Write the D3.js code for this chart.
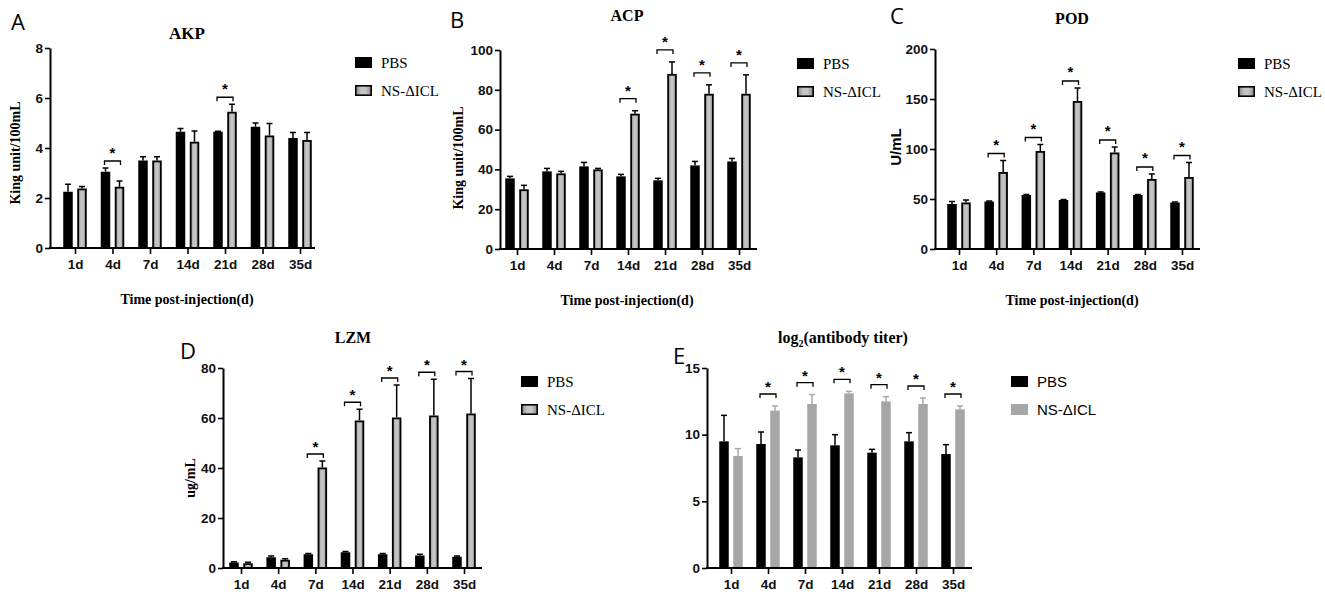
<!DOCTYPE html>
<html>
<head>
<meta charset="utf-8">
<script src="https://cdn.jsdelivr.net/npm/d3@7"></script>
<style>
  body { margin: 0; background: #fff; }
  svg { display: block; }
  .tick text { font-family: "Liberation Sans", Arial, sans-serif; font-weight: bold; font-size: 13.5px; fill: #111; }
  .ttl { font-family: "Liberation Serif", "Times New Roman", serif; font-weight: bold; }
  .lbl { font-family: "Open Sans", "Liberation Sans", sans-serif; font-size: 22px; }
</style>
</head>
<body>
<svg id="chart" width="1325" height="609"></svg>
<script>
const days = ["1d", "4d", "7d", "14d", "21d", "28d", "35d"];
const seriesNames = ["PBS", "NS-\u0394ICL"];

// AKP
const akpPBS = [2.25, 3.05, 3.5, 4.65, 4.65, 4.85, 4.4];
const akpPBSErr = [0.3, 0.15, 0.15, 0.13, 0.02, 0.15, 0.22];
const akpNS = [2.38, 2.45, 3.5, 4.25, 5.45, 4.5, 4.32];
const akpNSErr = [0.08, 0.23, 0.15, 0.43, 0.3, 0.48, 0.3];
const akpSig = ["4d", "21d"];

// ACP
const acpPBS = [35.5, 39, 41.5, 36.5, 34.5, 42, 44];
const acpPBSErr = [1, 1.5, 2, 1, 1, 2, 1.5];
const acpNS = [30, 38, 40, 68, 88, 78, 78];
const acpNSErr = [2, 1, 0.5, 1.5, 6, 4.5, 9.5];
const acpSig = ["14d", "21d", "28d", "35d"];

// POD
const podPBS = [45, 47.5, 54, 49, 56.5, 54, 46.5];
const podPBSErr = [2.5, 0.5, 0.5, 0.5, 0.5, 0.5, 0.5];
const podNS = [46.5, 77, 98, 148, 96.5, 70, 72];
const podNSErr = [2.5, 11.5, 6.5, 13, 5.5, 5, 14.5];
const podSig = ["4d", "7d", "14d", "21d", "28d", "35d"];

// LZM
const lzmPBS = [2.2, 4.3, 5.5, 6.3, 5.5, 5.0, 4.5];
const lzmPBSErr = [0.3, 0.5, 0.3, 0.3, 0.3, 0.5, 0.3];
const lzmNS = [1.9, 3.3, 40.2, 59, 60.2, 61, 61.8];
const lzmNSErr = [0.4, 0.4, 2.6, 4.5, 13, 14.5, 14];
const lzmSig = ["7d", "14d", "21d", "28d", "35d"];

// log2 antibody titer
const titerPBS = [9.5, 9.3, 8.3, 9.2, 8.65, 9.5, 8.55];
const titerPBSErr = [1.95, 0.9, 0.55, 0.8, 0.25, 0.65, 0.7];
const titerNS = [8.4, 11.8, 12.3, 13.1, 12.5, 12.3, 11.9];
const titerNSErr = [0.55, 0.35, 0.7, 0.15, 0.35, 0.45, 0.25];
const titerSig = ["4d", "7d", "14d", "21d", "28d", "35d"];

const svg = d3.select("#chart");

const grad = svg.append("defs").append("linearGradient").attr("id", "nsFill");
grad.append("stop").attr("offset", "0%").attr("stop-color", "#8a8a8a");
grad.append("stop").attr("offset", "35%").attr("stop-color", "#c4c4c4");
grad.append("stop").attr("offset", "65%").attr("stop-color", "#c4c4c4");
grad.append("stop").attr("offset", "100%").attr("stop-color", "#8a8a8a");

const panels = [
  { letter: "A", lx: 11, ly: 30, title: "AKP", tsize: 17, tx: 187, ty: 39, ylab: "King unit/100mL", ylx: 15, yly: 153, ylSans: false,
    x0: 50, xEnd: 315, first: 75, last: 300, yTop: 48, y0: 248, max: 8, step: 2,
    pbs: akpPBS, pbsErr: akpPBSErr, ns: akpNS, nsErr: akpNSErr, sig: akpSig, gap: 7, star: 11,
    legX: 355, legY: 57, xTitle: true, xtx: 187, e: false },
  { letter: "B", lx: 450, ly: 28, title: "ACP", tsize: 16, tx: 627, ty: 21, ylab: "King unit/100mL", ylx: 458, yly: 158, ylSans: false,
    x0: 500, xEnd: 757, first: 517, last: 739, yTop: 50, y0: 249, max: 100, step: 20,
    pbs: acpPBS, pbsErr: acpPBSErr, ns: acpNS, nsErr: acpNSErr, sig: acpSig, gap: 12, star: 11,
    legX: 797, legY: 58, xTitle: true, xtx: 627, e: false },
  { letter: "C", lx: 890, ly: 24, title: "POD", tsize: 16, tx: 1072, ty: 24, ylab: "U/mL", ylx: 896, yly: 147, ylSans: true,
    x0: 935, xEnd: 1200, first: 959, last: 1182, yTop: 49, y0: 249, max: 200, step: 50,
    pbs: podPBS, pbsErr: podPBSErr, ns: podNS, nsErr: podNSErr, sig: podSig, gap: 7, star: 12,
    legX: 1238, legY: 58, xTitle: true, xtx: 1072, e: false },
  { letter: "D", lx: 180, ly: 359, title: "LZM", tsize: 16, tx: 353, ty: 343, ylab: "ug/mL", ylx: 190, yly: 478, ylSans: false,
    x0: 223, xEnd: 482, first: 241, last: 464, yTop: 368, y0: 568, max: 80, step: 20,
    pbs: lzmPBS, pbsErr: lzmPBSErr, ns: lzmNS, nsErr: lzmNSErr, sig: lzmSig, gap: 7, star: 10,
    legX: 521, legY: 376, xTitle: false, e: false },
  { letter: "E", lx: 673, ly: 364, title: "log", sub: "2", rest: "(antibody titer)", tsize: 16, tx: 843, ty: 343, ylab: null,
    x0: 707, xEnd: 972, first: 731, last: 953, yTop: 368, y0: 568, max: 15, step: 5,
    pbs: titerPBS, pbsErr: titerPBSErr, ns: titerNS, nsErr: titerNSErr, sig: titerSig, gap: 12, star: 10,
    legX: 1011, legY: 376, xTitle: false, e: true }
];

panels.forEach(drawPanel);

function drawPanel(p) {
  const g = svg.append("g");
  const y = d3.scaleLinear().domain([0, p.max]).range([p.y0, p.yTop]);
  const x = d3.scalePoint().domain(days).range([p.first, p.last]);
  const bw = 9.5, off = 7;

  // panel letter
  g.append("text").attr("class", "lbl").attr("x", p.lx).attr("y", p.ly).text(p.letter);

  // title
  const t = g.append("text").attr("class", "ttl").attr("x", p.tx).attr("y", p.ty)
    .attr("text-anchor", "middle").style("font-size", p.tsize + "px").text(p.title);
  if (p.sub) {
    t.append("tspan").attr("dy", 4).style("font-size", "10px").text(p.sub);
    t.append("tspan").attr("dy", -4).text(p.rest);
  }

  // bars
  const rows = days.map((d, i) => ({ d, pbs: p.pbs[i], pbsErr: p.pbsErr[i], ns: p.ns[i], nsErr: p.nsErr[i] }));
  const errCol = p.e ? "#a8a8a8" : "#000";

  rows.forEach(r => {
    const cx = x(r.d);
    // error bars, upper half only
    [[cx - off, r.pbs, r.pbsErr, "#000"], [cx + off, r.ns, r.nsErr, errCol]].forEach(([bx, v, e, c]) => {
      g.append("line").attr("x1", bx).attr("x2", bx).attr("y1", y(v)).attr("y2", y(v + e))
        .attr("stroke", c).attr("stroke-width", 1.5);
      g.append("line").attr("x1", bx - 3).attr("x2", bx + 3).attr("y1", y(v + e)).attr("y2", y(v + e))
        .attr("stroke", c).attr("stroke-width", 1.5);
    });
    g.append("rect").attr("x", cx - off - bw / 2).attr("y", y(r.pbs)).attr("width", bw)
      .attr("height", y(0) - y(r.pbs)).attr("fill", "#000");
    if (p.e) {
      g.append("rect").attr("x", cx + off - bw / 2).attr("y", y(r.ns)).attr("width", bw)
        .attr("height", y(0) - y(r.ns)).attr("fill", "#a6a6a6");
    } else {
      g.append("rect").attr("x", cx + off - bw / 2 + 0.9).attr("y", y(r.ns) + 0.9).attr("width", bw - 1.8)
        .attr("height", Math.max(0, y(0) - y(r.ns) - 0.9)).attr("fill", "url(#nsFill)")
        .attr("stroke", "#000").attr("stroke-width", 1.8);
    }
  });

  // significance brackets
  rows.filter(r => p.sig.includes(r.d)).forEach(r => {
    const cx = x(r.d);
    const top = Math.min(y(r.pbs + r.pbsErr), y(r.ns + r.nsErr));
    const by = top - p.gap;
    g.append("path")
      .attr("d", `M${cx - off - 1},${by + 4}V${by}H${cx + off + 1}V${by + 4}`)
      .attr("fill", "none").attr("stroke", "#000").attr("stroke-width", 1.3);
    g.append("text").attr("x", cx).attr("y", by - p.star + 8).attr("text-anchor", "middle")
      .style("font-family", "Liberation Sans, Arial, sans-serif").style("font-weight", "bold")
      .style("font-size", "15px").text("*");
  });

  // y axis
  const ya = g.append("g").attr("transform", `translate(${p.x0},0)`)
    .call(d3.axisLeft(y).tickValues(d3.range(0, p.max + 1e-9, p.step)).tickSize(5).tickSizeOuter(0).tickPadding(2));
  ya.select(".domain").attr("stroke-width", 2);
  ya.selectAll(".tick line").attr("stroke-width", 1.6);

  // x axis
  const xa = g.append("g").attr("transform", `translate(0,${p.y0})`)
    .call(d3.axisBottom(x).tickSize(6).tickSizeOuter(0).tickPadding(5));
  xa.select(".domain").remove();
  xa.selectAll(".tick line").attr("stroke-width", 1.6);
  g.append("line").attr("x1", p.x0 - 1).attr("x2", p.xEnd).attr("y1", p.y0).attr("y2", p.y0)
    .attr("stroke", "#000").attr("stroke-width", 2);

  // axis titles
  if (p.ylab) {
    g.append("text").attr("transform", `translate(${p.ylx},${p.yly}) rotate(-90)`)
      .attr("text-anchor", "middle").attr("dy", "0.35em")
      .style("font-family", p.ylSans ? "Liberation Sans, Arial, sans-serif" : "Liberation Serif, Times New Roman, serif")
      .style("font-weight", "bold").style("font-size", p.ylSans ? "15px" : "14px").text(p.ylab);
  }
  if (p.xTitle) {
    g.append("text").attr("class", "ttl").attr("x", p.xtx).attr("y", p.y0 + 56).attr("text-anchor", "middle")
      .style("font-size", "14px").text("Time post-injection(d)");
  }

  // legend
  seriesNames.forEach((s, i) => {
    const ly = p.legY + i * 28;
    if (p.e) {
      g.append("rect").attr("x", p.legX).attr("y", ly).attr("width", 17).attr("height", 11)
        .attr("fill", i === 0 ? "#000" : "#a6a6a6");
    } else {
      g.append("rect").attr("x", p.legX + 0.8).attr("y", ly + 0.8).attr("width", 15.4).attr("height", 9.4)
        .attr("fill", i === 0 ? "#000" : "url(#nsFill)").attr("stroke", "#000").attr("stroke-width", 1.6);
    }
    g.append("text").attr("x", p.legX + 26).attr("y", ly + 5.5).attr("dy", "0.35em")
      .style("font-family", p.e ? "Liberation Sans, Arial, sans-serif" : "Liberation Serif, Times New Roman, serif")
      .style("font-size", "15px").text(s);
  });
}
</script>
</body>
</html>
